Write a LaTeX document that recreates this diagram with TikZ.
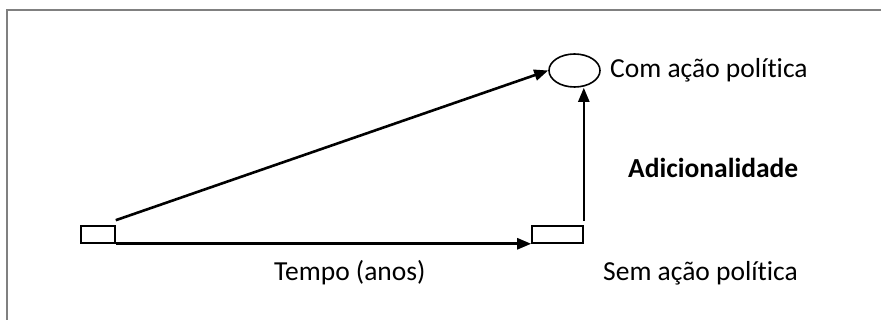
\documentclass[tikz,border=0pt]{standalone}
\usepackage{fontspec}
\setmainfont{Carlito}[Ligatures=NoCommon]
\usetikzlibrary{arrows.meta,shapes.geometric}

\begin{document}
\begin{tikzpicture}[x=1pt, y=-1pt,
  stage/.style={draw, line width=1.6pt, minimum height=17pt, inner sep=0pt},
  outcome/.style={draw, ellipse, line width=1.6pt, minimum width=51pt,
    minimum height=33pt, inner sep=0pt},
  lbl/.style={anchor=base west, inner sep=0pt,
    font=\fontsize{27.5}{33}\selectfont},
  path/.style={line width=2.6pt, -{Triangle[length=14pt, width=11pt]}}]
\useasboundingbox (0,0) rectangle (881,320);
\draw[black!50, line width=1.5pt] (7,320) -- (7,10) -- (881,10);
\node (start) [stage, minimum width=34pt] at (98,234.5) {};
\node (sem) [stage, minimum width=51pt] at (557.5,234.5) {};
\node (com) [outcome] at (574.5,70.5) {};
\node (comtxt) [lbl] at (610,78) {Com ação política};
\node (adic) [lbl, font=\fontsize{27.5}{33}\selectfont\bfseries] at (628,178)
  {Adicionalidade};
\node (tempo) [lbl] at (274,281) {Tempo (anos)};
\node (semtxt) [lbl] at (603,281) {Sem ação política};
\draw[path] ([yshift=5pt]start.north east) -- (com.west);
\draw[path] (start.south east) -- (sem.south west);
\draw[path, line width=2.3pt] ([yshift=4pt]sem.north east) -- (sem.north east |- com.south);
\end{tikzpicture}
\end{document}
